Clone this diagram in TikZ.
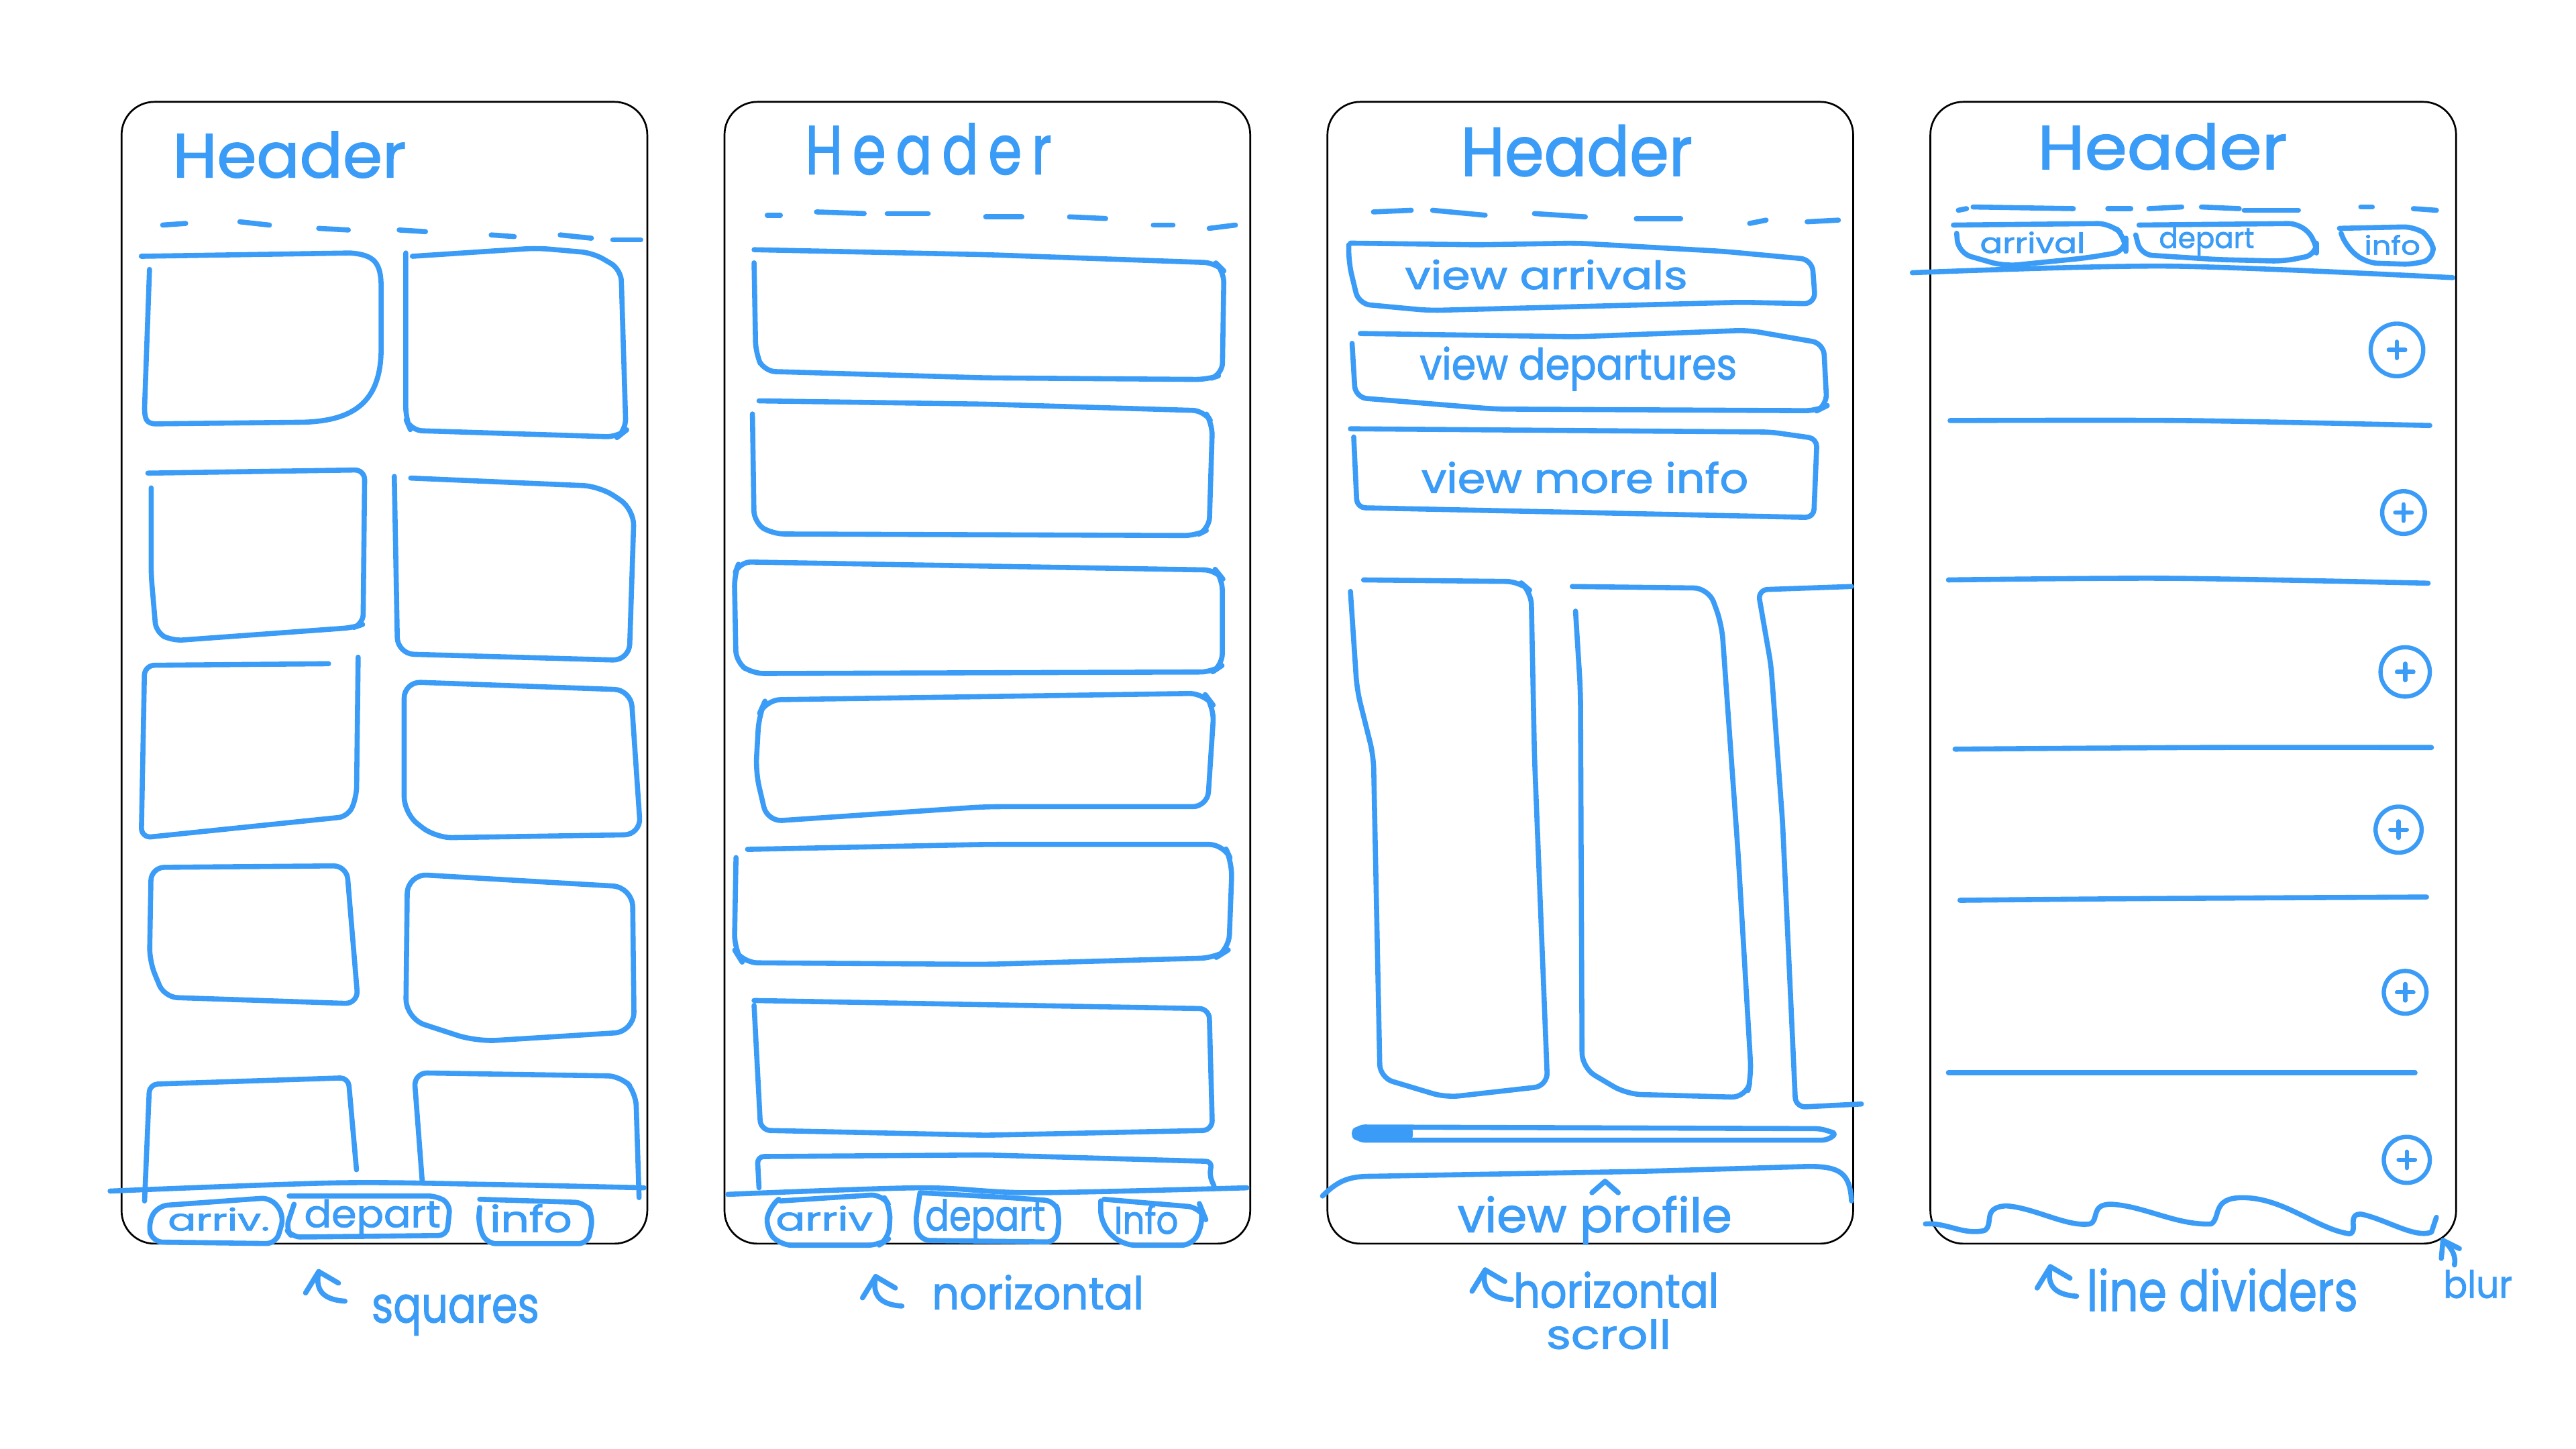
\documentclass[tikz,border=0pt]{standalone}
\usepackage{fontspec}
\usepackage{graphicx}
\newfontfamily\hand{Poppins}[FakeBold=1.6]
\definecolor{hb}{RGB}{58,156,246}
\newcommand\hw[3]{\resizebox{#1pt}{#2pt}{\hand #3}}
\tikzset{
  phone/.style={draw=black, line width=1.1pt, rounded corners=20pt},
  ink/.style={draw=hb, line width=3.1pt, line cap=round, line join=round},
  txt/.style={text=hb, inner sep=0pt, anchor=base west},
  hookarrow/.pic={\draw[ink] (-8,13) -- (0,0) -- (12,7);
                  \draw[ink] (0,0) .. controls (-2,10) and (1,17) .. (16,18);}
}
\begin{document}
\begin{tikzpicture}[x=1pt,y=-1pt]
\fill[white] (0,0) rectangle (1568,882);
\useasboundingbox (0,0) rectangle (1568,882);

% ---------------- phone outlines
\draw[phone] (74,62) rectangle (394,757);
\draw[phone] (441,62) rectangle (761,757);
\draw[phone] (808,62) rectangle (1128,757);
\draw[phone] (1175,62) rectangle (1495,757);

% ================= PHONE 1 : squares
\node[txt] (h1) at (105,108) {\hw{142}{28}{Header}};
\foreach \a/\b/\c/\d in {99/137/113/136, 146/135/164/137, 194/139/212/140, 243/140/259/141, 299/143/313/144, 341/143/360/145, 373/146/390/146}
  \draw[ink] (\a,\b) -- (\c,\d);
% row 1
\draw[ink] (86,156) -- (213,154) .. controls (228,155) and (232,160) .. (232,175) -- (232,212) .. controls (232,245) and (215,256) .. (185,257) -- (95,258) .. controls (89,258) and (88,255) .. (88,248) -- (91,164);
\draw[ink,rounded corners=7pt] (251,156) -- (327,151) -- (361,154) -- (378,164) -- (381,262) -- (376,266) -- (250,262) -- (247,255) -- (247,154);
% row 2
\draw[ink,rounded corners=6pt] (90,288) -- (222,286) -- (221,380) -- (215,382) -- (105,390) -- (95,385) -- (92,350) -- (92,297);
\draw[ink,rounded corners=10pt] (240,290) -- (242,398) -- (383,402) -- (386,310) -- (365,296) -- (250,291);
% row 3
\draw[ink,rounded corners=6pt] (200,404) -- (88,405) -- (86,510) -- (212,497) -- (217,485) -- (218,400);
\draw[ink,rounded corners=10pt] (246,415) -- (384,420) -- (390,508) -- (265,510) -- (246,495) -- cycle;
% row 4
\draw[ink,rounded corners=8pt] (92,528) -- (211,527) -- (218,611) -- (100,607) -- (91,585) -- cycle;
\draw[ink,rounded corners=12pt] (248,532) -- (385,540) -- (386,628) -- (290,634) -- (247,620) -- cycle;
% row 5
\draw[ink,rounded corners=5pt] (88,731) -- (91,660) -- (212,656) -- (217,712);
\draw[ink,rounded corners=8pt] (257,719) -- (252,653) -- (378,655) -- (387,665) -- (389,729);
% nav
\draw[ink] plot[smooth] coordinates {(67,725) (205,720) (300,721) (392,723)};
\draw[ink,rounded corners=6pt] (96,734) -- (165,729) -- (173,740) -- (168,757) -- (93,756) -- (90,745) -- cycle;
\draw[ink,rounded corners=5pt] (176,728) -- (266,728) -- (274,733) -- (272,752) -- (178,753) -- (174,748) -- (179,733);
\draw[ink,rounded corners=6pt] (292,730) -- (356,732) -- (361,740) -- (358,757) -- (296,757) -- (291,745) -- (292,735);
\node[txt] (t1a) at (102,749) {\hw{62}{14}{arriv.}};
\node[txt] (t1d) at (185,747) {\hw{83}{17}{depart}};
\node[txt] (t1i) at (298,750) {\hw{50}{17}{info}};
\pic at (194,774) {hookarrow};
\node[txt] (l1) at (226,805) {\hw{102}{17}{squares}};

% ================= PHONE 2 : horizontal
\node[txt] (h2) at (490,106) {\hw{150}{31}{\addfontfeatures{LetterSpace=18}Header}};
\foreach \a/\b/\c/\d in {467/131/475/131, 497/129/526/130, 540/130/565/130, 600/132/622/132, 651/132/673/133, 702/137/714/137, 736/139/752/137}
  \draw[ink] (\a,\b) -- (\c,\d);
\draw[ink,rounded corners=7pt] (459,152) -- (600,155) -- (740,160) -- (745,165) -- (744,228) -- (735,231) -- (600,230) -- (465,226) -- (460,215) -- (459,160);
\draw[ink,rounded corners=7pt] (462,244) -- (600,246) -- (733,250) -- (738,258) -- (736,322) -- (728,326) -- (470,325) -- (459,318) -- (458,252);
\draw[ink,rounded corners=7pt] (450,342) -- (740,347) -- (744,352) -- (744,405) -- (738,409) -- (458,410) -- (448,403) -- (447,350) -- cycle;
\draw[ink,rounded corners=9pt] (466,426) -- (733,422) -- (739,430) -- (735,491) -- (600,491) -- (467,500) -- (460,470) -- (462,435) -- cycle;
\draw[ink,rounded corners=9pt] (455,517) -- (600,514) -- (745,514) -- (750,525) -- (748,578) -- (740,583) -- (600,587) -- (452,586) -- (447,578) -- (448,522);
\draw[ink,rounded corners=6pt] (459,609) -- (736,614) -- (738,688) -- (600,691) -- (463,688) -- (459,612);
\draw[ink,rounded corners=4pt] (462,723) -- (461,704) -- (600,703) -- (738,707) -- (736,715) -- (739,722);
\draw[ink] plot[smooth] coordinates {(443,727) (560,723) (628,726) (759,723)};
\draw[ink,rounded corners=7pt] (475,731) -- (537,727) -- (542,735) -- (541,754) -- (535,758) -- (475,758) -- (466,748) -- (468,735) -- (474,730);
\draw[ink,rounded corners=6pt] (560,726) -- (615,729) -- (642,731) -- (645,740) -- (643,756) -- (560,755) -- (557,745) -- (560,726);
\draw[ink,rounded corners=8pt] (672,730) -- (731,735) -- (733,740) -- (727,758) -- (683,758) -- (670,745) -- (670,731);
\node[txt] (t2a) at (472,749) {\hw{59}{15}{arriv}};
\node[txt] (t2d) at (563,749) {\hw{73}{19}{depart}};
\node[txt] (t2i) at (678,751) {\hw{39}{18}{Info}};
\pic at (533,777) {hookarrow};
\node[txt] (l2) at (567,797) {\hw{129}{21}{norizontal}};

% ================= PHONE 3 : horizontal scroll
\node[txt] (h3) at (889,107) {\hw{141}{31}{Header}};
\foreach \a/\b/\c/\d in {836/129/859/128, 872/128/904/131, 934/130/965/132, 996/133/1023/133, 1065/136/1075/134, 1100/135/1119/134}
  \draw[ink] (\a,\b) -- (\c,\d);
\draw[ink,rounded corners=7pt] (822,148) -- (900,149) -- (960,148) -- (1049,153) -- (1103,158) -- (1105,185) -- (1060,184) -- (870,189) -- (827,185) -- (821,160) -- (821,149);
\draw[ink,rounded corners=7pt] (828,203) -- (960,205) -- (1064,201) -- (1110,209) -- (1112,247) -- (1106,250) -- (910,249) -- (825,242) -- (823,209);
\draw[ink,rounded corners=5pt] (822,261) -- (1078,263) -- (1106,267) -- (1104,315) -- (826,309) -- (824,266);
\node[txt] (b3a) at (855,176) {\hw{172}{18}{view arrivals}};
\node[txt] (b3d) at (864,231) {\hw{193}{20}{view departures}};
\node[txt] (b3m) at (865,300) {\hw{199}{19}{view more info}};
% cards
\draw[ink,rounded corners=8pt] (822,360) -- (826,420) -- (836,460) -- (840,656) -- (880,668) -- (942,661) -- (934,460) -- (932,360) -- (925,354) -- (830,353);
\draw[ink,rounded corners=9pt] (959,372) -- (962,420) -- (963,650) -- (990,666) -- (1063,668) -- (1066,655) -- (1058,520) -- (1048,380) -- (1040,358) -- (957,357);
\draw[ink,rounded corners=6pt] (1127,357) -- (1070,359) -- (1078,405) -- (1085,500) -- (1093,674) -- (1133,672);
% scrollbar
\draw[ink,rounded corners=3pt] (828,686) -- (1108,687) -- (1118,690) -- (1112,694) -- (828,694) -- (823,690) -- cycle;
\fill[hb,rounded corners=3pt] (823,686) rectangle (860,694);
% bottom bar
\draw[ink] (805,728) .. controls (815,718) and (822,716) .. (835,716) -- (1000,713) -- (1101,710) .. controls (1120,710) and (1126,714) .. (1127,731);
\draw[ink] (969,726) -- (977,719) -- (985,726);
\node[txt] (t3p) at (887,750) {\hw{167}{22}{view profile}};
\pic at (904,773) {hookarrow};
\node[txt] (l3a) at (921,796) {\hw{125}{22}{horizontal}};
\node[txt] (l3b) at (941,821) {\hw{76}{18}{scroll}};

% ================= PHONE 4 : line dividers
\node[txt] (h4) at (1240,103) {\hw{152}{28}{Header}};
\foreach \a/\b/\c/\d in {1192/128/1197/127, 1201/126/1262/127, 1283/127/1297/127, 1308/127/1328/126, 1340/126/1363/127, 1366/128/1399/128, 1437/126/1444/126, 1469/127/1483/128}
  \draw[ink] (\a,\b) -- (\c,\d);
\draw[ink,rounded corners=8pt] (1189,137) -- (1285,136) -- (1294,145) -- (1294,153) -- (1270,157) -- (1220,162) -- (1192,154) -- (1191,142);
\draw[ink,rounded corners=7pt] (1302,137) -- (1400,136) -- (1410,147) -- (1410,155) -- (1390,159) -- (1350,158) -- (1303,155) -- (1300,143);
\draw[ink,rounded corners=7pt] (1424,139) -- (1470,138) -- (1480,145) -- (1482,157) -- (1470,161) -- (1440,160) -- (1428,150) -- (1425,142);
\node[txt] (t4a) at (1205,154) {\hw{64}{13}{arrival}};
\node[txt] (t4d) at (1314,151) {\hw{58}{13}{depart}};
\node[txt] (t4i) at (1439,155) {\hw{34}{12}{info}};
\draw[ink] plot[smooth] coordinates {(1164,166) (1320,162) (1493,169)};
% dividers
\draw[ink] plot[smooth] coordinates {(1187,256) (1330,256) (1479,259)};
\draw[ink] plot[smooth] coordinates {(1186,353) (1320,352) (1478,355)};
\draw[ink] plot[smooth] coordinates {(1190,456) (1340,455) (1480,455)};
\draw[ink] plot[smooth] coordinates {(1193,548) (1300,547) (1477,546)};
\draw[ink] (1186,653) -- (1470,653);
% plus circles
\foreach \x/\y/\r in {1459/213/16, 1463/312/13, 1464/409/15, 1460/505/14, 1464/604/13, 1465/706/14}{
  \draw[ink,line width=2.6pt] (\x,\y) circle[radius=\r pt];
  \draw[ink,line width=2.6pt] (\x-5,\y) -- (\x+5,\y) (\x,\y-5) -- (\x,\y+5);
}
% wavy bottom
\draw[ink] (1172,745) .. controls (1185,744) and (1195,752) .. (1208,749)
  .. controls (1214,745) and (1206,735) .. (1221,734)
  .. controls (1238,735) and (1258,747) .. (1272,745)
  .. controls (1278,743) and (1272,733) .. (1285,733)
  .. controls (1305,734) and (1325,746) .. (1346,745)
  .. controls (1352,741) and (1346,729) .. (1365,729)
  .. controls (1390,729) and (1410,748) .. (1430,751)
  .. controls (1436,750) and (1428,739) .. (1437,739)
  .. controls (1452,742) and (1470,754) .. (1480,750)
  -- (1483,741);
\draw[ink] (1486,766) -- (1487,755) -- (1497,760);
\draw[ink] (1487,755) .. controls (1493,760) and (1495,765) .. (1494,770);
\node[txt] (t4b) at (1487,790) {\hw{42}{17}{blur}};
\pic at (1248,771) {hookarrow};
\node[txt] (l4) at (1270,798) {\hw{165}{26}{line dividers}};
\end{tikzpicture}
\end{document}
